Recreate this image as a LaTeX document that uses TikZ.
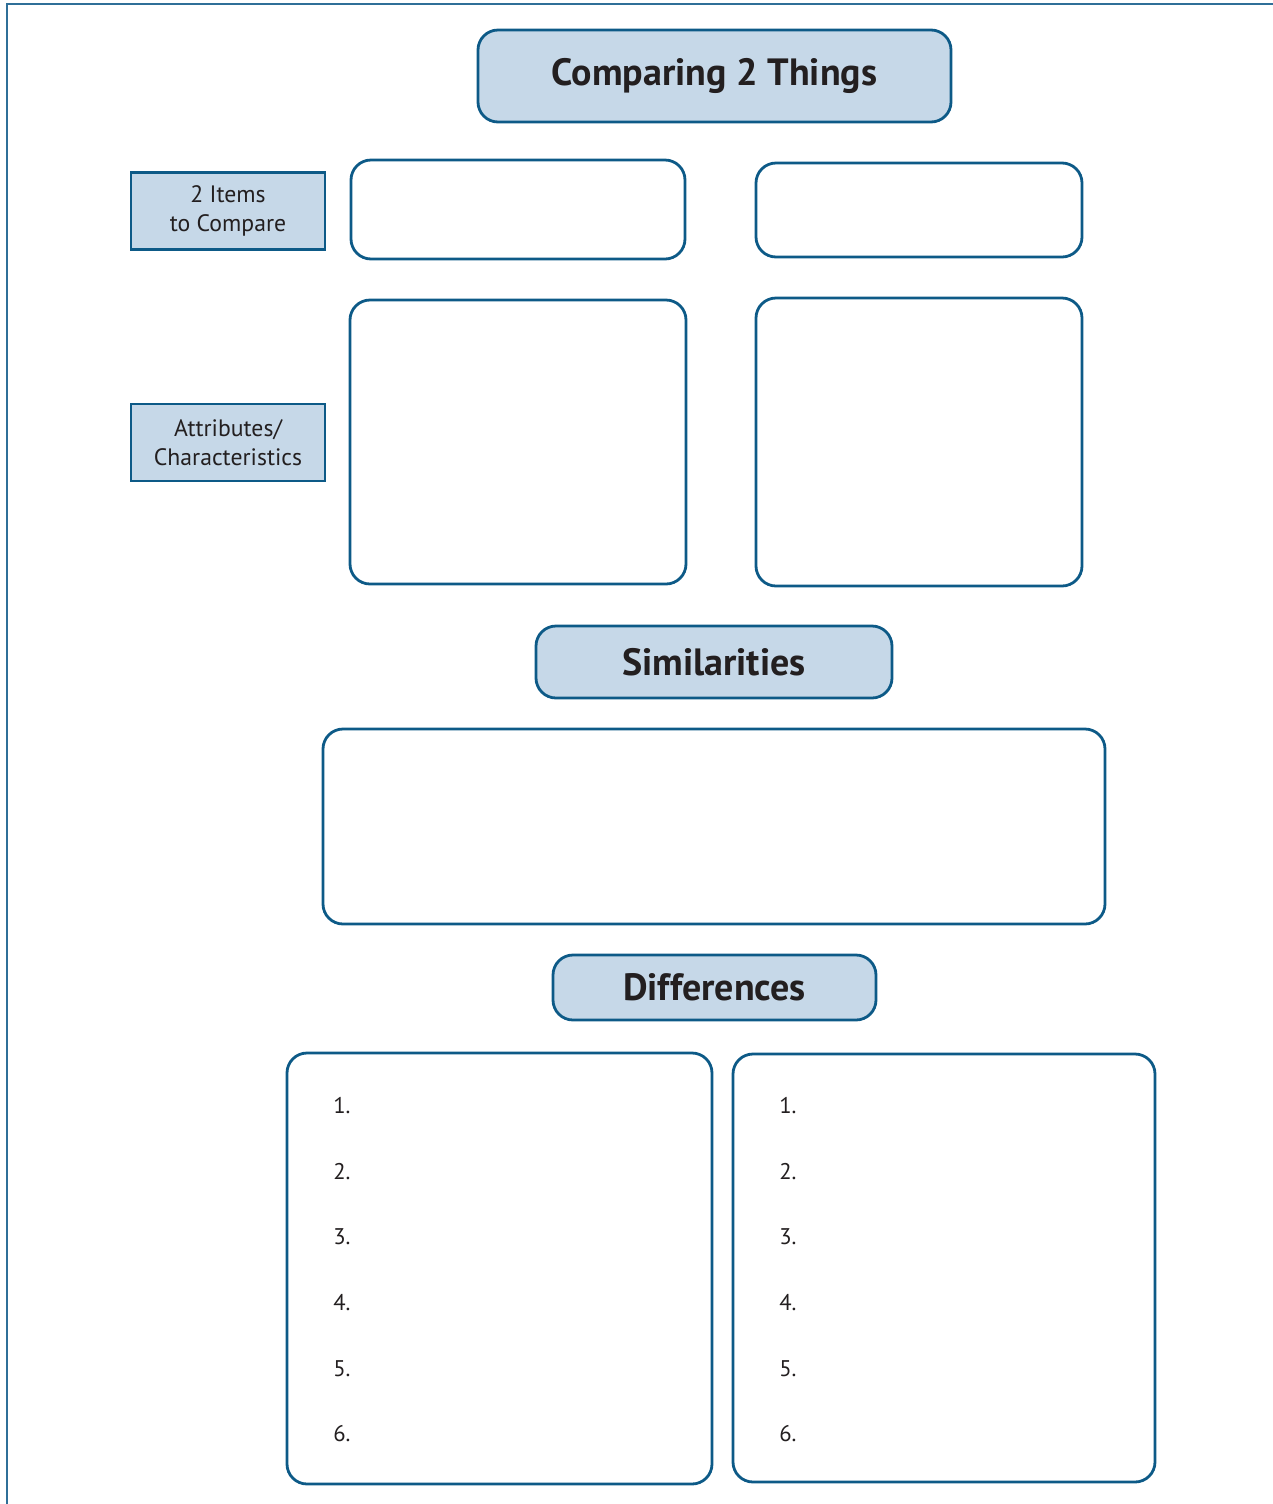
\documentclass[tikz,border=0pt]{standalone}
\usepackage{fontspec}
\setmainfont{PT Sans}
\definecolor{edge}{HTML}{0D5A87}
\definecolor{frame}{HTML}{2F6F98}
\definecolor{head}{HTML}{C6D8E8}
\definecolor{ink}{HTML}{231F20}
\tikzset{
  box/.style={draw=edge, line width=2.1pt, rounded corners=15pt, fill=white, inner sep=0pt},
  headbox/.style={draw=edge, line width=2.1pt, rounded corners=15pt, fill=head, inner sep=0pt,
    font=\fontsize{28.5}{34}\selectfont\bfseries, text=ink},
  labbox/.style={draw=edge, line width=1.7pt, fill=head, inner sep=0pt, align=center,
    font=\fontsize{17.8}{21.8}\selectfont, text=ink, minimum width={0.75pt*194}, minimum height={0.75pt*77}},
  num/.style={anchor=base west, inner sep=0pt, font=\fontsize{17}{20}\selectfont, text=ink}
}
\begin{document}
\begin{tikzpicture}[x=0.75pt,y=-0.75pt]
\useasboundingbox (0,0) rectangle (1273,1504);
% page frame
\coordinate (fbl) at (7,1504);
\coordinate (ftl) at (7,4);
\coordinate (ftr) at (1273,4);
\draw[frame, line width=1.6pt] (fbl) -- (ftl) -- (ftr);
% title
\node[headbox, minimum width={0.75pt*473}, minimum height={0.75pt*92}] (title) at (714.5,76) {Comparing 2 Things};
% labels
\node[labbox] (items) at (228,211) {2 Items\\to Compare};
\node[labbox, text depth=0pt] (attr) at (228,442.5) {Attributes/\\Characteristics};
% item boxes
\node[box, minimum width={0.75pt*334}, minimum height={0.75pt*99}] (a1) at (518,209.5) {};
\node[box, minimum width={0.75pt*326}, minimum height={0.75pt*94}] (b1) at (919,210) {};
\node[box, minimum width={0.75pt*336}, minimum height={0.75pt*284}] (a2) at (518,442) {};
\node[box, minimum width={0.75pt*326}, minimum height={0.75pt*288}] (b2) at (919,442) {};
% similarities
\node[headbox, minimum width={0.75pt*356}, minimum height={0.75pt*72}] (sim) at (714,662) {Similarities};
\node[box, minimum width={0.75pt*782}, minimum height={0.75pt*195}] (simbox) at (714,826.5) {};
% differences
\node[headbox, minimum width={0.75pt*323}, minimum height={0.75pt*65}] (diff) at (714.5,987.5) {Differences};
\node[box, minimum width={0.75pt*425}, minimum height={0.75pt*431}] (dl) at (499.5,1268.5) {};
\node[box, minimum width={0.75pt*422}, minimum height={0.75pt*428}] (dr) at (944,1268) {};
% numbers
\foreach \i/\y in {1/1113,2/1179,3/1244,4/1310,5/1376,6/1441}{
  \node[num] (l\i) at (333,\y) {\i.};
  \node[num] (r\i) at (779,\y) {\i.};
}
\end{tikzpicture}
\end{document}
